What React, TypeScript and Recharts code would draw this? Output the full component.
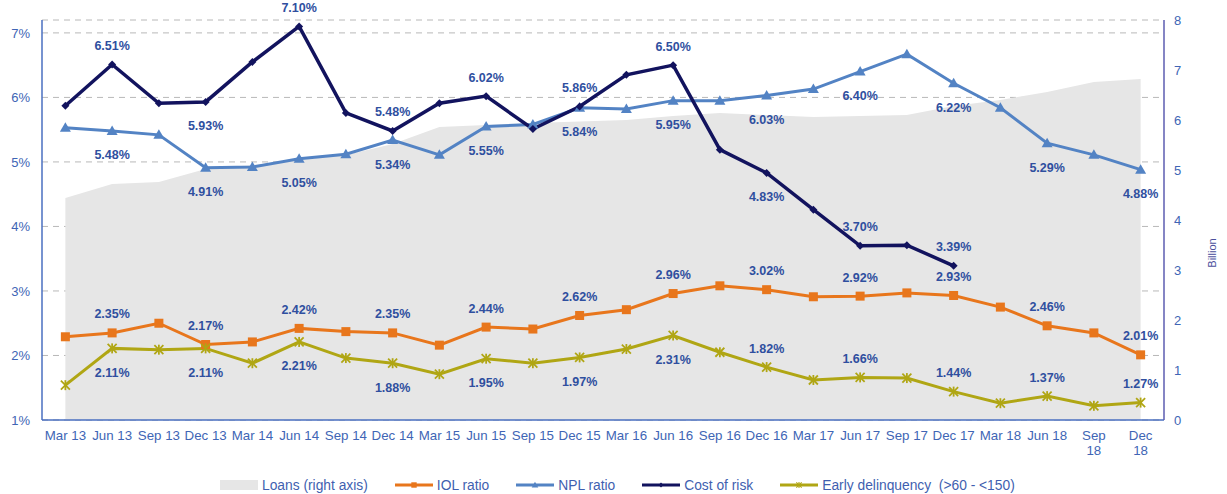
import { ComposedChart, Area, Line, XAxis, YAxis, CartesianGrid } from 'recharts'

const quarters = [
  'Mar 13', 'Jun 13', 'Sep 13', 'Dec 13',
  'Mar 14', 'Jun 14', 'Sep 14', 'Dec 14',
  'Mar 15', 'Jun 15', 'Sep 15', 'Dec 15',
  'Mar 16', 'Jun 16', 'Sep 16', 'Dec 16',
  'Mar 17', 'Jun 17', 'Sep 17', 'Dec 17',
  'Mar 18', 'Jun 18', 'Sep 18', 'Dec 18',
]

// tick text, the last two wrap onto two lines
const xLabels = [
  'Mar 13', 'Jun 13', 'Sep 13', 'Dec 13',
  'Mar 14', 'Jun 14', 'Sep 14', 'Dec 14',
  'Mar 15', 'Jun 15', 'Sep 15', 'Dec 15',
  'Mar 16', 'Jun 16', 'Sep 16', 'Dec 16',
  'Mar 17', 'Jun 17', 'Sep 17', 'Dec 17',
  'Mar 18', 'Jun 18', 'Sep\n18', 'Dec\n18',
]

// billions, right axis
const loans = [
  4.44, 4.72, 4.76, 5.02, 5.1, 5.2, 5.3, 5.52, 5.86, 5.9, 5.94, 5.97,
  6.0, 6.08, 6.14, 6.1, 6.06, 6.08, 6.1, 6.28, 6.4, 6.56, 6.76, 6.82,
]

// percentages, left axis
const iolRatio = [
  2.29, 2.35, 2.5, 2.17, 2.21, 2.42, 2.37, 2.35, 2.16, 2.44, 2.41, 2.62,
  2.71, 2.96, 3.08, 3.02, 2.91, 2.92, 2.97, 2.93, 2.75, 2.46, 2.35, 2.01,
]

const nplRatio = [
  5.53, 5.48, 5.42, 4.91, 4.92, 5.05, 5.12, 5.34, 5.11, 5.55, 5.58, 5.84,
  5.82, 5.95, 5.95, 6.03, 6.13, 6.4, 6.67, 6.22, 5.84, 5.29, 5.11, 4.88,
]

const costOfRisk = [
  5.87, 6.51, 5.91, 5.93, 6.55, 7.1, 5.76, 5.48, 5.91, 6.02, 5.51, 5.86,
  6.35, 6.5, 5.19, 4.83, 4.26, 3.7, 3.71, 3.39, null, null, null, null,
]

const earlyDelinquency = [
  1.54, 2.11, 2.09, 2.11, 1.88, 2.21, 1.96, 1.88, 1.71, 1.95, 1.88, 1.97,
  2.1, 2.31, 2.05, 1.82, 1.62, 1.66, 1.65, 1.44, 1.26, 1.37, 1.22, 1.27,
]

const leftTicks = [1, 2, 3, 4, 5, 6, 7]
const rightTicks = [0, 1, 2, 3, 4, 5, 6, 7, 8]

const data = quarters.map((q, i) => ({
  quarter: q,
  loans: loans[i],
  iol: iolRatio[i],
  npl: nplRatio[i],
  cost: costOfRisk[i],
  early: earlyDelinquency[i],
}))

const FONT = '"Liberation Sans", Arial, sans-serif'
const LABEL_BLUE = '#2f4f9f'
const TICK_BLUE = '#4065b5'

const COLORS = {
  loans: '#e6e6e6',
  iol: '#e8761c',
  npl: '#5383c4',
  cost: '#12135e',
  early: '#b0a614',
}

// which side of the point the value label goes (only Jun / Dec points are labelled)
const labelSide = {
  iol: (i: number) => 'above',
  npl: (i: number) => 'below',
  cost: (i: number) => (i === 3 || i === 15 ? 'below' : 'above'),
  early: (i: number) => (i >= 15 ? 'above' : 'below'),
}

function Marker({ kind, cx, cy, color }: any) {
  if (kind === 'square') {
    return <rect x={cx - 4.5} y={cy - 4.5} width={9} height={9} fill={color} />
  }
  if (kind === 'triangle') {
    return <polygon points={`${cx},${cy - 5.5} ${cx - 5.5},${cy + 4} ${cx + 5.5},${cy + 4}`} fill={color} />
  }
  if (kind === 'diamond') {
    return <polygon points={`${cx},${cy - 4} ${cx + 4},${cy} ${cx},${cy + 4} ${cx - 4},${cy}`} fill={color} />
  }
  return (
    <g stroke={color} strokeWidth={1.8}>
      <line x1={cx - 4.5} y1={cy - 4.5} x2={cx + 4.5} y2={cy + 4.5} />
      <line x1={cx - 4.5} y1={cy + 4.5} x2={cx + 4.5} y2={cy - 4.5} />
      <line x1={cx} y1={cy - 5} x2={cx} y2={cy + 5} />
    </g>
  )
}

function makeDot(kind: string, color: string, side: (i: number) => string) {
  return (props: any) => {
    const { cx, cy, index, value } = props
    if (cy == null || value == null) return <g key={`d-${index}`} />
    const labelled = index % 2 === 1
    const v = Array.isArray(value) ? value[1] : value
    const ty = side(index) === 'above' ? cy - 14.5 : cy + 28.5
    return (
      <g key={`d-${index}`}>
        <Marker kind={kind} cx={cx} cy={cy} color={color} />
        {labelled && (
          <text
            x={cx}
            y={ty}
            textAnchor="middle"
            fontFamily={FONT}
            fontSize={12.5}
            fontWeight="bold"
            fill={LABEL_BLUE}
          >
            {v.toFixed(2)}%
          </text>
        )}
      </g>
    )
  }
}

function XTick(props: any) {
  const { x, y, index } = props
  const lines = xLabels[index].split('\n')
  return (
    <text x={x} y={y + 12} textAnchor="middle" fontFamily={FONT} fontSize={13.3} fill={TICK_BLUE}>
      {lines.map((l, k) => (
        <tspan key={k} x={x} dy={k === 0 ? 0 : 15}>
          {l}
        </tspan>
      ))}
    </text>
  )
}

function BillionLabel(props: any) {
  const { viewBox } = props
  const x = viewBox.x + 48
  const y = viewBox.y + viewBox.height / 2 + 33
  return (
    <text
      x={x}
      y={y}
      transform={`rotate(-90, ${x}, ${y})`}
      textAnchor="middle"
      dominantBaseline="central"
      fontFamily={FONT}
      fontSize={11}
      fill="#4b4f9c"
    >
      Billion
    </text>
  )
}

const legendItems = [
  { name: 'Loans (right axis)', key: 'loans', kind: 'area' },
  { name: 'IOL ratio', key: 'iol', kind: 'square' },
  { name: 'NPL ratio', key: 'npl', kind: 'triangle' },
  { name: 'Cost of risk', key: 'cost', kind: 'diamond' },
  { name: 'Early delinquency  (>60 - <150)', key: 'early', kind: 'star' },
]

function ChartLegend() {
  return (
    <div
      style={{
        position: 'absolute',
        left: 220,
        top: 477,
        display: 'flex',
        alignItems: 'center',
        gap: 27,
        fontFamily: FONT,
        fontSize: 13.8,
        color: '#3f5fb0',
        whiteSpace: 'pre',
      }}
    >
      {legendItems.map((it) => {
        const color = (COLORS as any)[it.key]
        return (
          <div key={it.key} style={{ display: 'flex', alignItems: 'center', gap: 4 }}>
            <svg width={38} height={16}>
              {it.kind === 'area' ? (
                <rect x={0} y={3} width={38} height={10} fill={color} />
              ) : (
                <g>
                  <line x1={0} y1={8} x2={38} y2={8} stroke={color} strokeWidth={3} />
                  <g transform="translate(19,8) scale(0.6) translate(-19,-8)">
                    <Marker kind={it.kind} cx={19} cy={8} color={color} />
                  </g>
                </g>
              )}
            </svg>
            <span>{it.name}</span>
          </div>
        )
      })}
    </div>
  )
}

export default function App() {
  return (
    <div style={{ position: 'absolute', left: 0, top: 0, width: 1227, height: 494, background: '#fff' }}>
      <ComposedChart
        width={1227}
        height={494}
        data={data}
        margin={{ top: 20, right: 7, bottom: 44, left: 0 }}
      >
        <CartesianGrid
          yAxisId="left"
          vertical={false}
          stroke="#b8b8b8"
          strokeDasharray="6 5"
        />
        <XAxis
          dataKey="quarter"
          scale="band"
          interval={0}
          height={30}
          tickLine={false}
          axisLine={{ stroke: '#4a6fc0', strokeWidth: 1.5 }}
          tick={<XTick />}
        />
        <YAxis
          yAxisId="left"
          domain={[1, 7.2]}
          ticks={leftTicks}
          width={42}
          tickLine={false}
          tickSize={6}
          tickMargin={6}
          axisLine={{ stroke: '#4a6fc0', strokeWidth: 1.5 }}
          tickFormatter={(v) => `${v}%`}
          tick={{ fontFamily: FONT, fontSize: 13, fill: TICK_BLUE }}
        />
        <YAxis
          yAxisId="right"
          orientation="right"
          domain={[0, 8]}
          ticks={rightTicks}
          width={56}
          tickLine={false}
          tickSize={6}
          tickMargin={4}
          axisLine={{ stroke: '#5c5cb0', strokeWidth: 1.5 }}
          tick={{ fontFamily: FONT, fontSize: 13, fill: TICK_BLUE, textAnchor: 'start' }}
          label={<BillionLabel />}
        />
        <Area
          yAxisId="right"
          dataKey="loans"
          type="linear"
          stroke="none"
          fill={COLORS.loans}
          fillOpacity={1}
          isAnimationActive={false}
          dot={false}
          activeDot={false}
        />
        <Line
          yAxisId="left"
          dataKey="iol"
          type="linear"
          stroke={COLORS.iol}
          strokeWidth={3}
          dot={makeDot('square', COLORS.iol, labelSide.iol)}
          activeDot={false}
          isAnimationActive={false}
        />
        <Line
          yAxisId="left"
          dataKey="npl"
          type="linear"
          stroke={COLORS.npl}
          strokeWidth={3}
          dot={makeDot('triangle', COLORS.npl, labelSide.npl)}
          activeDot={false}
          isAnimationActive={false}
        />
        <Line
          yAxisId="left"
          dataKey="cost"
          type="linear"
          stroke={COLORS.cost}
          strokeWidth={3.5}
          dot={makeDot('diamond', COLORS.cost, labelSide.cost)}
          activeDot={false}
          isAnimationActive={false}
        />
        <Line
          yAxisId="left"
          dataKey="early"
          type="linear"
          stroke={COLORS.early}
          strokeWidth={3}
          dot={makeDot('star', COLORS.early, labelSide.early)}
          activeDot={false}
          isAnimationActive={false}
        />
      </ComposedChart>
      <ChartLegend />
    </div>
  )
}
